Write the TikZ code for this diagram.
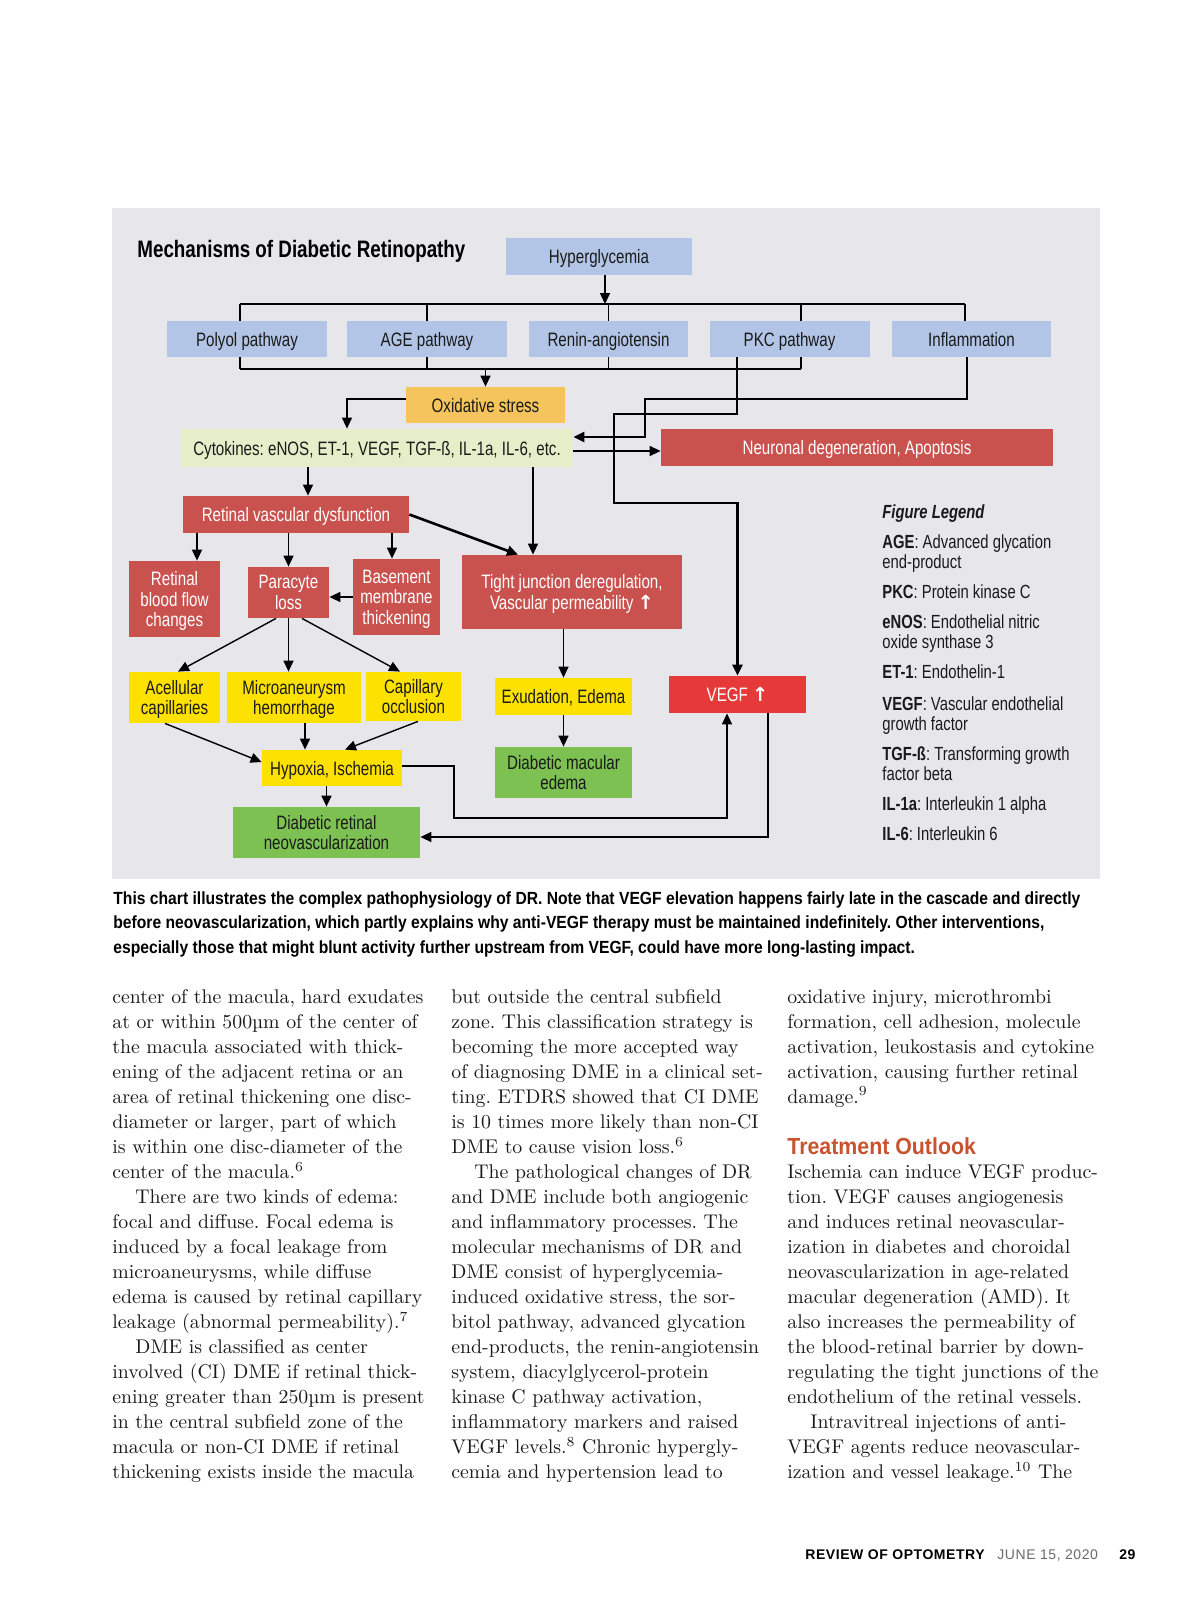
\documentclass[tikz,border=0pt]{standalone}
\usepackage{fontspec}
\usepackage{tikz}
\usetikzlibrary{arrows.meta,calc}
\setmainfont{Latin Modern Roman}
\newfontfamily\cnd[FakeStretch=0.78]{Liberation Sans}
\newfontfamily\titlefont[FakeStretch=0.79]{Liberation Sans}
\newfontfamily\capfont[FakeStretch=0.89]{Liberation Sans}
\newfontfamily\headfont[FakeStretch=0.92]{Liberation Sans}
\newfontfamily\footfont[LetterSpace=4]{Liberation Sans}
\newfontfamily\arrowfont{DejaVu Sans}
\newcommand{\riseup}{{\arrowfont\bfseries ↑}}
\definecolor{panel}{HTML}{E6E6EB}
\definecolor{paleBlue}{HTML}{B3C5E6}
\definecolor{amber}{HTML}{F5C45C}
\definecolor{paleGreen}{HTML}{E4EFC9}
\definecolor{brick}{HTML}{C9514E}
\definecolor{signal}{HTML}{E63A3A}
\definecolor{lemon}{HTML}{FDE100}
\definecolor{leaf}{HTML}{7CC152}
\definecolor{rust}{HTML}{C8532F}
\definecolor{ink}{HTML}{1A1A1A}
\definecolor{slate}{HTML}{6A6A6A}
\frenchspacing

\begin{document}
\begin{tikzpicture}[x=0.5pt,y=-0.5pt,
  box/.style={inner sep=0pt,align=center,text=ink,text depth=0pt,font=\cnd\fontsize{9.7}{10.3}\selectfont},
  pathBox/.style={box,fill=paleBlue},
  redBox/.style={box,fill=brick,text=white},
  yellowBox/.style={box,fill=lemon},
  greenBox/.style={box,fill=leaf},
  wire/.style={line width=0.7pt},
  arr/.style={wire,-{Triangle[length=5.5pt,width=5pt]}},
  heavy/.style={line width=1.3pt},
  bodyLine/.style={anchor=base west,inner sep=0pt,text=ink,font=\fontsize{9.9}{12}\selectfont},
  legendLine/.style={anchor=base west,inner sep=0pt,text=ink,font=\cnd\fontsize{9.5}{10}\selectfont},
  captionLine/.style={anchor=base west,inner sep=0pt,font=\capfont\bfseries\fontsize{8.8}{10}\selectfont}]
  \useasboundingbox (0,0) rectangle (1200,1619);
  \fill[white] (0,0) rectangle (1200,1619);
  \fill[panel] (112,208) rectangle (1100,879);

  % title and top row
  \node[anchor=base west,inner sep=0pt,font=\titlefont\bfseries\fontsize{11.9}{14}\selectfont] (title) at (137,257) {Mechanisms of Diabetic Retinopathy};
  \node[pathBox,minimum width=93pt,minimum height=18.5pt] (hyper) at (599,256.5) {Hyperglycemia};
  \node[pathBox,minimum width=80pt,minimum height=18pt] (polyol) at (247,339) {Polyol pathway};
  \node[pathBox,minimum width=80pt,minimum height=18pt] (age) at (427,339) {AGE pathway};
  \node[pathBox,minimum width=79.5pt,minimum height=18pt] (renin) at (608.5,339) {Renin-angiotensin};
  \node[pathBox,minimum width=80pt,minimum height=18pt] (pkc) at (789.5,339) {PKC pathway};
  \node[pathBox,minimum width=79.5pt,minimum height=18pt] (infl) at (971.5,339) {Inflammation};

  % middle
  \node[box,fill=amber,minimum width=79.5pt,minimum height=18pt] (oxid) at (485.5,405) {Oxidative stress};
  \node[box,fill=paleGreen,minimum width=196pt,minimum height=19pt] (cyto) at (377,448) {Cytokines: eNOS, ET-1, VEGF, TGF-ß, IL-1a, IL-6, etc.};
  \node[redBox,minimum width=196pt,minimum height=18.5pt] (neuro) at (857,447.5) {Neuronal degeneration, Apoptosis};
  \node[redBox,minimum width=113pt,minimum height=18.5pt] (rvd) at (296,514.5) {Retinal vascular dysfunction};
  \node[redBox,minimum width=45.5pt,minimum height=38pt] (rbf) at (174.5,599) {Retinal\\blood flow\\changes};
  \node[redBox,minimum width=40.5pt,minimum height=25.5pt] (para) at (288.5,592.5) {Paracyte\\loss};
  \node[redBox,minimum width=43.5pt,minimum height=38pt] (base) at (396.5,597) {Basement\\membrane\\thickening};
  \node[redBox,minimum width=110pt,minimum height=37pt] (tight) at (572,592) {Tight junction deregulation,\\Vascular permeability \riseup};

  % lower
  \node[yellowBox,minimum width=45.5pt,minimum height=25.5pt] (acell) at (174.5,697.5) {Acellular\\capillaries};
  \node[yellowBox,minimum width=67pt,minimum height=25.5pt] (micro) at (294,697.5) {Microaneurysm\\hemorrhage};
  \node[yellowBox,minimum width=47.5pt,minimum height=24.5pt] (capil) at (413.5,696.5) {Capillary\\occlusion};
  \node[yellowBox,minimum width=68.5pt,minimum height=18.5pt] (exud) at (563.5,696.5) {Exudation, Edema};
  \node[box,fill=signal,text=white,minimum width=68.5pt,minimum height=18.5pt] (vegf) at (737.5,694.5) {VEGF \riseup};
  \node[yellowBox,minimum width=70pt,minimum height=18pt] (hypox) at (332,768) {Hypoxia, Ischemia};
  \node[greenBox,minimum width=68.5pt,minimum height=25.5pt] (dme) at (563.5,772.5) {Diabetic macular\\edema};
  \node[greenBox,minimum width=93.5pt,minimum height=25.5pt] (drn) at (326.5,832.5) {Diabetic retinal\\neovascularization};

  % buses
  \coordinate (busTopL) at (240,304);
  \coordinate (busTopR) at (965,304);
  \coordinate (busBotL) at (240,369);
  \coordinate (busBotR) at (801,369);
  \draw[arr] ([xshift=3pt]hyper.south) -- ([xshift=3pt]hyper.south |- busTopL);
  \draw[wire] (busTopL) -- (busTopR);
  \draw[wire] (busTopL) -- (busTopL |- polyol.north);
  \draw[wire] (age.north |- busTopL) -- (age.north);
  \draw[wire] (renin.north |- busTopL) -- (renin.north);
  \draw[wire] (busTopL -| busBotR) -- (pkc.north -| busBotR);
  \draw[wire] (busTopR) -- (busTopR |- infl.north);
  \draw[wire] (busBotL) -- (busBotR);
  \draw[wire] (polyol.south -| busBotL) -- (busBotL);
  \draw[wire] (age.south) -- (age.south |- busBotL);
  \draw[wire] (renin.south) -- (renin.south |- busBotL);
  \draw[wire] (pkc.south -| busBotR) -- (busBotR);
  \draw[arr] (oxid.north |- busBotL) -- (oxid.north);
  \draw[arr] ([yshift=3pt]oxid.west) -| ([xshift=-15pt]cyto.north);

  % long feedback lines
  \draw[arr,heavy] ([xshift=-2.25pt]infl.south) |- (645,399) |- ([yshift=5.5pt]cyto.east);
  \draw[arr,heavy] ([xshift=-26.25pt]pkc.south) |- (614,414) |- (vegf.north |- 0,503) -- (vegf.north);
  \draw[arr] ([yshift=-1.5pt]cyto.east) -- ([yshift=-1.5pt]cyto.east -| neuro.west);
  \draw[arr] (cyto.south -| 308,0) -- (rvd.north -| 308,0);
  \draw[arr] (cyto.south -| 533,0) -- (tight.north -| 533,0);
  \draw[arr,heavy] (rvd.east) -- ([xshift=-27pt]tight.north);

  % vascular branch
  \draw[arr] (rvd.south -| 197,0) -- (rbf.north -| 197,0);
  \draw[arr] (rvd.south -| para.north) -- (para.north);
  \draw[arr] (rvd.south -| 392,0) -- (base.north -| 392,0);
  \draw[arr] (base.west) -- (base.west -| para.east);
  \draw[arr] ([xshift=-6.25pt]para.south) -- ([xshift=1.75pt]acell.north);
  \draw[arr] (para.south) -- (para.south |- micro.north);
  \draw[arr] ([xshift=6.75pt]para.south) -- ([xshift=-6.75pt]capil.north);
  \draw[arr] ([xshift=-4.75pt]acell.south) -- ([yshift=3pt]hypox.west);
  \draw[arr] (micro.south -| 305,0) -- (hypox.north -| 305,0);
  \draw[arr] ([xshift=2.25pt]capil.south) -- ([xshift=6.5pt]hypox.north);
  \draw[arr] (drn.north |- hypox.south) -- (drn.north);
  \draw[arr] ([yshift=1pt]hypox.east) -| (454,818) -| ([xshift=-5.25pt]vegf.south);
  \draw[arr] ([xshift=15.25pt]vegf.south) |- ([yshift=-2.25pt]drn.east);
  \draw[arr] (tight.south -| exud.north) -- (exud.north);
  \draw[arr] (exud.south) -- (dme.north);

  % legend
  \node[legendLine,font=\cnd\bfseries\itshape\fontsize{9.5}{10}\selectfont] (legend) at (882,518) {Figure Legend};
  \foreach \yy/\t in {548/{\textbf{AGE}: Advanced glycation},568/{end-product},
      598/{\textbf{PKC}: Protein kinase C},628/{\textbf{eNOS}: Endothelial nitric},648/{oxide synthase 3},
      678/{\textbf{ET-1}: Endothelin-1},710/{\textbf{VEGF}: Vascular endothelial},730/{growth factor},
      760/{\textbf{TGF-ß}: Transforming growth},780/{factor beta},
      810/{\textbf{IL-1a}: Interleukin 1 alpha},840/{\textbf{IL-6}: Interleukin 6}}
    \node[legendLine] at (882,\yy) {\t};

  % caption
  \node[captionLine] (cap1) at (113,904) {This chart illustrates the complex pathophysiology of DR. Note that VEGF elevation happens fairly late in the cascade and directly};
  \node[captionLine] (cap2) at (113,928.5) {before neovascularization, which partly explains why anti-VEGF therapy must be maintained indefinitely. Other interventions,};
  \node[captionLine] (cap3) at (113,953) {especially those that might blunt activity further upstream from VEGF, could have more long-lasting impact.};

  % body text
  \foreach \t [count=\i from 0] in {{center of the macula, hard exudates},{at or within 500µm of the center of},
      {the macula associated with thick-},{ening of the adjacent retina or an},{area of retinal thickening one disc-},
      {diameter or larger, part of which},{is within one disc-diameter of the},{center of the macula.\textsuperscript{6}},
      {\hspace*{11.5pt}There are two kinds of edema:},{focal and diffuse. Focal edema is},{induced by a focal leakage from},
      {microaneurysms, while diffuse},{edema is caused by retinal capillary},{leakage (abnormal permeability).\textsuperscript{7}},
      {\hspace*{11.5pt}DME is classified as center},{involved (CI) DME if retinal thick-},{ening greater than 250µm is present},
      {in the central subfield zone of the},{macula or non-CI DME if retinal},{thickening exists inside the macula}}
    \node[bodyLine] at (112,1003+25.05*\i) {\t};
  \foreach \t [count=\i from 0] in {{but outside the central subfield},{zone. This classification strategy is},
      {becoming the more accepted way},{of diagnosing DME in a clinical set-},{ting. ETDRS showed that CI DME},
      {is 10 times more likely than non-CI},{DME to cause vision loss.\textsuperscript{6}},
      {\hspace*{11.5pt}The pathological changes of DR},{and DME include both angiogenic},{and inflammatory processes. The},
      {molecular mechanisms of DR and},{DME consist of hyperglycemia-},{induced oxidative stress, the sor-},
      {bitol pathway, advanced glycation},{end-products, the renin-angiotensin},{system, diacylglycerol-protein},
      {kinase C pathway activation,},{inflammatory markers and raised},{VEGF levels.\textsuperscript{8} Chronic hypergly-},
      {cemia and hypertension lead to}}
    \node[bodyLine] at (451,1003+25.05*\i) {\t};
  \foreach \t [count=\i from 0] in {{oxidative injury, microthrombi},{formation, cell adhesion, molecule},
      {activation, leukostasis and cytokine},{activation, causing further retinal},{damage.\textsuperscript{9}}}
    \node[bodyLine] at (787,1003+25.05*\i) {\t};
  \node[anchor=base west,inner sep=0pt,text=rust,font=\headfont\bfseries\fontsize{11.6}{14}\selectfont] (outlook) at (787,1154) {Treatment Outlook};
  \foreach \t [count=\i from 7] in {{Ischemia can induce VEGF produc-},{tion. VEGF causes angiogenesis},
      {and induces retinal neovascular-},{ization in diabetes and choroidal},{neovascularization in age-related},
      {macular degeneration (AMD). It},{also increases the permeability of},{the blood-retinal barrier by down-},
      {regulating the tight junctions of the},{endothelium of the retinal vessels.},
      {\hspace*{11.5pt}Intravitreal injections of anti-},{VEGF agents reduce neovascular-},
      {ization and vessel leakage.\textsuperscript{10} The}}
    \node[bodyLine] at (787,1003+25.05*\i) {\t};

  % footer
  \node[anchor=base west,inner sep=0pt,font=\footfont\bfseries\fontsize{7}{8}\selectfont] (journal) at (805,1559) {REVIEW OF OPTOMETRY};
  \node[anchor=base west,inner sep=0pt,text=slate,font=\footfont\fontsize{7}{8}\selectfont] (issue) at (997,1559) {JUNE 15, 2020};
  \node[anchor=base west,inner sep=0pt,font=\footfont\bfseries\fontsize{7}{8}\selectfont] (page) at (1119,1559) {29};
\end{tikzpicture}
\end{document}
